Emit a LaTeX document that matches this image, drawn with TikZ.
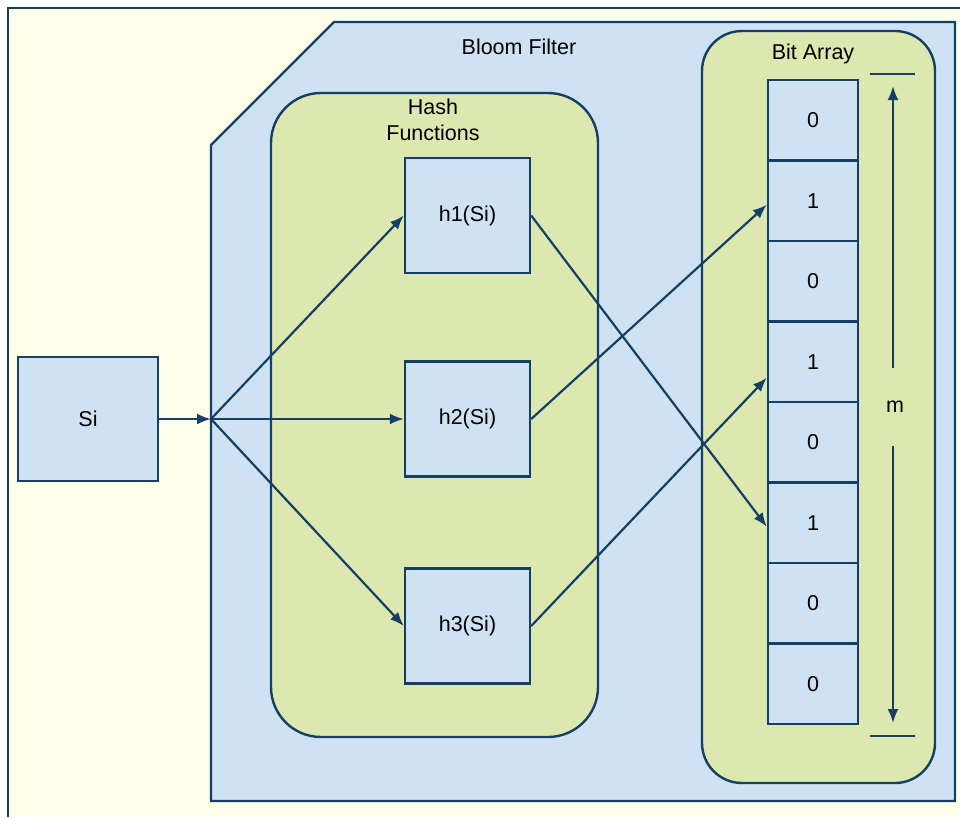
\documentclass[tikz,border=0pt]{standalone}
\usepackage{fontspec}
\setmainfont{Liberation Sans}
\usetikzlibrary{arrows.meta}

\definecolor{edgeblue}{HTML}{163F66}
\definecolor{fillblue}{HTML}{CFE2F3}
\definecolor{fillgreen}{HTML}{DDE8B1}
\definecolor{cream}{HTML}{FFFFEB}

\tikzset{
  outline/.style={draw=edgeblue, line width=2.4pt},
  hashbox/.style={outline, fill=fillblue, minimum width=125pt, minimum height=115pt, inner sep=0pt},
  bitcell/.style={outline, fill=fillblue, minimum width=90pt, minimum height=80.5pt, inner sep=0pt},
  link/.style={draw=edgeblue, line width=2.2pt, -{Latex[length=14pt,width=11pt]}},
}

\begin{document}
\begin{tikzpicture}[x=1pt, y=-1pt, font=\fontsize{21.5}{26}\selectfont]
    \useasboundingbox (0,0) rectangle (960,817);
    % Page background and frame
    \fill[white] (0,0) rectangle (960,817);
    \fill[cream] (9,9) rectangle (960,817);
    \draw[outline] (8,817) -- (8,8) -- (960,8);

    % Bloom filter body
    \draw[outline, fill=fillblue] (211,145) -- (334,22) -- (955,22) -- (955,801) -- (211,801) -- cycle;
    \node (bftitle) at (519,47) {Bloom Filter};

    % Hash functions group
    \draw[outline, fill=fillgreen, rounded corners=50pt] (271,93) rectangle (598,737);
    \node[align=center] (hftitle) at (433,120) {Hash\\Functions};
    \node[hashbox] (h1) at (467.5,215.5) {h1(Si)};
    \node[hashbox] (h2) at (467.5,419) {h2(Si)};
    \node[hashbox] (h3) at (467.5,626) {h3(Si)};

    % Bit array group
    \draw[outline, fill=fillgreen, rounded corners=40pt] (702,31) rectangle (935,783);
    \node (batitle) at (813,54) {Bit Array};
    \foreach \v [count=\i] in {0,1,0,1,0,1,0,0} {
        \node[bitcell] (c\i) at (813,{80+80.5*(\i-0.5)}) {\v};
    }

    % Input element
    \node[outline, fill=fillblue, minimum width=140pt, minimum height=124pt] (si) at (88,419) {Si};
    \coordinate (hub) at (211,419);
    \draw[link] (si.east) -- (hub);
    \draw[link] (hub) -- (h1.west);
    \draw[link] (hub) -- (h2.west);
    \draw[link] (hub) -- (h3.west);

    % Hash results into the array
    \draw[link] (h1.east) -- ([yshift=-4pt]c6.west);
    \draw[link] (h2.east) -- ([yshift=-4pt]c2.west);
    \draw[link] (h3.east) -- ([yshift=-16pt]c4.west);

    % Array length marker
    \coordinate (mtop) at (893,74);
    \coordinate (mbot) at (893,736);
    \draw[outline] ([xshift=-23pt]mtop) -- ([xshift=22pt]mtop);
    \draw[outline] ([xshift=-23pt]mbot) -- ([xshift=22pt]mbot);
    \node[inner sep=0pt, minimum height=78pt] (mlabel) at (895,407) {m};
    \draw[link] (mlabel.north -| mtop) -- ([yshift=-12pt]mtop);
    \draw[link] (mlabel.south -| mbot) -- ([yshift=13pt]mbot);
\end{tikzpicture}
\end{document}
